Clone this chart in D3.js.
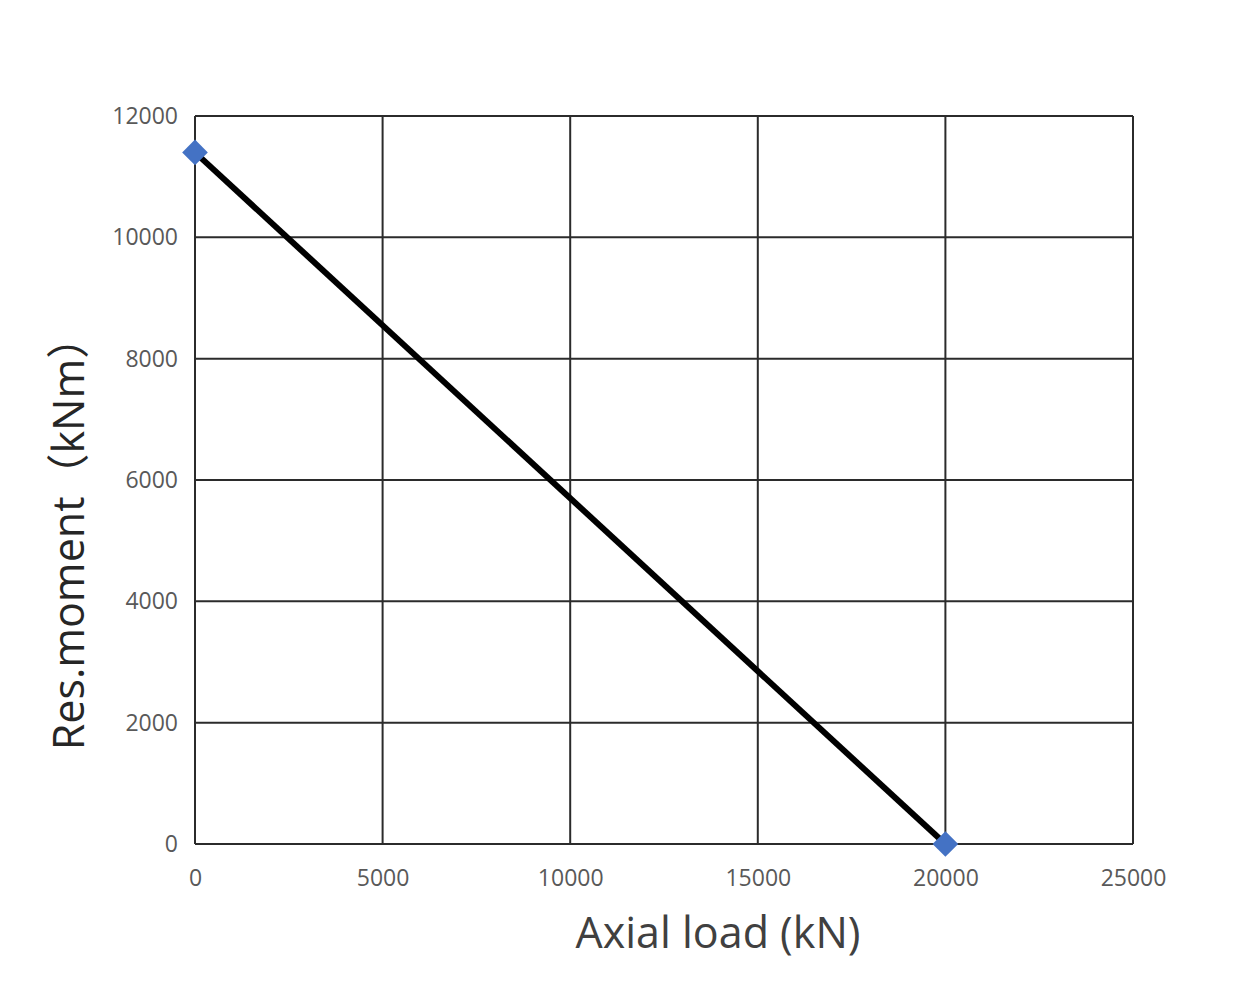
<!DOCTYPE html>
<html>
<head>
<meta charset="utf-8">
<script src="https://d3js.org/d3.v7.min.js"></script>
<style>
  body { margin: 0; background: #fff; }
  text { font-family: "Open Sans", "Noto Sans", "Noto Sans CJK SC", sans-serif; }
</style>
</head>
<body>
<div id="chart"></div>
<script>
    // axial load (kN) vs resisting moment (kNm)
    var axialLoad = [0, 20000];
    var resMoment = [11400, 0];
    var xTicks = [0, 5000, 10000, 15000, 20000, 25000];
    var yTicks = [0, 2000, 4000, 6000, 8000, 10000, 12000];

    var w = 1260,
        h = 990;

    var svg = d3.select("#chart")
        .append("svg")
        .attr("width", w)
        .attr("height", h);

    var plotL = 195, plotR = 1133, plotT = 116, plotB = 844;

    var x = d3.scaleLinear().domain([0, 25000]).range([plotL, plotR]),
        y = d3.scaleLinear().domain([0, 12000]).range([plotB, plotT]);

    // grid
    svg.append("g")
        .selectAll("line")
        .data(xTicks)
        .enter().append("line")
        .attr("x1", function (d) { return x(d); })
        .attr("x2", function (d) { return x(d); })
        .attr("y1", plotT)
        .attr("y2", plotB)
        .attr("stroke", "#2b2b2b")
        .attr("stroke-width", 2);

    svg.append("g")
        .selectAll("line")
        .data(yTicks)
        .enter().append("line")
        .attr("x1", plotL)
        .attr("x2", plotR)
        .attr("y1", function (d) { return y(d); })
        .attr("y2", function (d) { return y(d); })
        .attr("stroke", "#2b2b2b")
        .attr("stroke-width", 2);

    // tick labels
    var xAxis = svg.append("g")
        .attr("transform", "translate(0," + plotB + ")")
        .call(d3.axisBottom(x).tickValues(xTicks).tickSize(0).tickPadding(26).tickFormat(d3.format("d")));
    xAxis.select(".domain").remove();
    xAxis.selectAll("text").attr("fill", "#595959").style("font-size", "23px");

    var yAxis = svg.append("g")
        .attr("transform", "translate(" + plotL + ",0)")
        .call(d3.axisLeft(y).tickValues(yTicks).tickSize(0).tickPadding(17).tickFormat(d3.format("d")));
    yAxis.select(".domain").remove();
    yAxis.selectAll("text").attr("fill", "#595959").style("font-size", "23px");

    // titles
    svg.append("text")
        .attr("x", 718)
        .attr("y", 948)
        .attr("text-anchor", "middle")
        .attr("fill", "#404040")
        .style("font-size", "43px")
        .text("Axial load (kN)");

    svg.append("text")
        .attr("transform", "translate(84,533) rotate(-90)")
        .attr("text-anchor", "middle")
        .attr("fill", "#262626")
        .style("font-size", "43px")
        .text("Res.moment（kNm）");

    // line + markers
    var pts = axialLoad.map(function (d, i) { return { load: d, moment: resMoment[i] }; });

    var line = d3.line()
        .x(function (d) { return x(d.load); })
        .y(function (d) { return y(d.moment); });

    svg.append("path")
        .datum(pts)
        .attr("d", line)
        .attr("fill", "none")
        .attr("stroke", "#000")
        .attr("stroke-width", 6);

    svg.selectAll(".pt")
        .data(pts)
        .enter().append("path")
        .attr("class", "pt")
        .attr("d", d3.symbol().type(d3.symbolDiamond2).size(420))
        .attr("transform", function (d) { return "translate(" + x(d.load) + "," + y(d.moment) + ")"; })
        .attr("fill", "#4472c4");
</script>
</body>
</html>
